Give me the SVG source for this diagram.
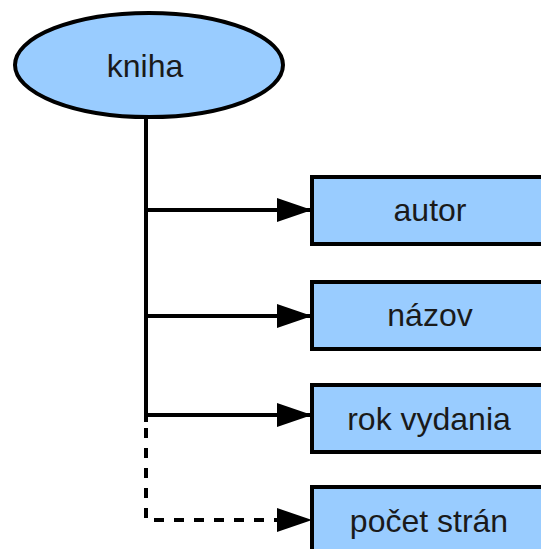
<svg xmlns="http://www.w3.org/2000/svg" width="541" height="549" viewBox="0 0 541 549">
  <style>
    .shape { fill: #99ccff; stroke: #000; stroke-width: 4; }
    .label { font-family: "Liberation Sans", Arial, sans-serif; font-size: 32px; fill: #1a1a1a; text-anchor: middle; }
    .link { fill: none; stroke: #000; stroke-width: 4; }
    .dashed { stroke-dasharray: 10 10; }
  </style>
  <defs>
    <marker id="arrow" markerUnits="userSpaceOnUse" markerWidth="36" markerHeight="24" refX="35" refY="12" orient="auto">
      <path d="M0,0 L35,12 L0,24 Z" fill="#000"/>
    </marker>
  </defs>
  <rect width="541" height="549" fill="#fff"/>

  <g id="connectors">
    <path class="link" d="M146,117 V422"/>
    <path class="link" d="M146,210 H312" marker-end="url(#arrow)"/>
    <path class="link" d="M146,316 H312" marker-end="url(#arrow)"/>
    <path class="link" d="M146,415 H312" marker-end="url(#arrow)"/>
    <path class="link dashed" d="M146,428 V520 H312" marker-end="url(#arrow)"/>
  </g>

  <g id="kniha">
    <ellipse class="shape" cx="149" cy="65" rx="134" ry="52"/>
    <text class="label" x="145" y="77">kniha</text>
  </g>
  <g id="autor">
    <rect class="shape" x="312" y="177" width="240" height="67"/>
    <text class="label" x="430" y="221">autor</text>
  </g>
  <g id="nazov">
    <rect class="shape" x="312" y="282" width="240" height="67"/>
    <text class="label" x="430" y="326">názov</text>
  </g>
  <g id="rok-vydania">
    <rect class="shape" x="312" y="385" width="240" height="67"/>
    <text class="label" x="429" y="430">rok vydania</text>
  </g>
  <g id="pocet-stran">
    <rect class="shape" x="312" y="487" width="240" height="80"/>
    <text class="label" x="429" y="532">počet strán</text>
  </g>
</svg>
